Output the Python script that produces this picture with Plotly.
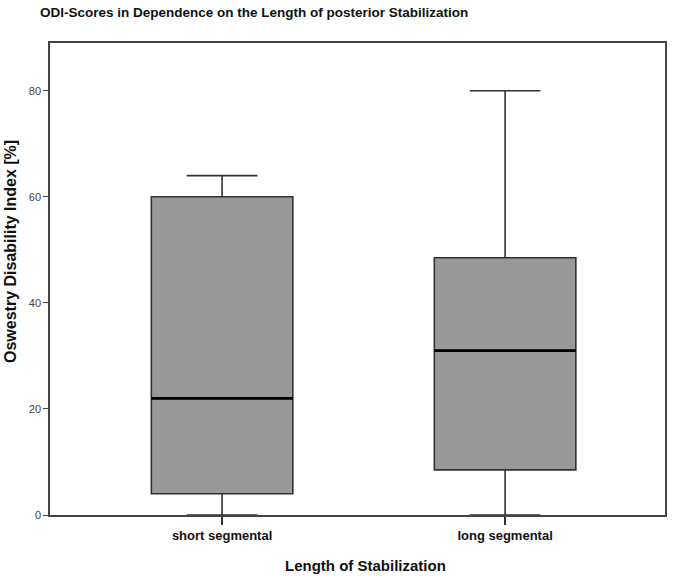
import plotly.graph_objects as go

categories = ["short segmental", "long segmental"]
x_pos = [0, 1]
lower_whisker = [0, 0]
q1 = [4, 8.5]
median = [22, 31]
q3 = [60, 48.5]
upper_whisker = [64, 80]
y_ticks = [0, 20, 40, 60, 80]

FONT = "Liberation Sans, Arial, sans-serif"

fig = go.Figure()
fig.add_trace(go.Box(
    x=x_pos, q1=q1, median=median, q3=q3,
    lowerfence=lower_whisker, upperfence=upper_whisker,
    width=0.5, whiskerwidth=0.5,
    fillcolor="#999999",
    line=dict(color="#333333", width=1.6),
    boxpoints=False, showlegend=False, hoverinfo="skip",
))
for xi, m in zip(x_pos, median):
    fig.add_trace(go.Scatter(
        x=[xi - 0.25, xi + 0.25], y=[m, m], mode="lines",
        line=dict(color="#000000", width=2.6), showlegend=False, hoverinfo="skip",
    ))

fig.update_layout(
    width=685, height=577,
    margin=dict(l=50, r=20, t=43, b=62),
    paper_bgcolor="white", plot_bgcolor="white",
    font=dict(family=FONT, color="#222222"),
    title=dict(text="<b>ODI-Scores in Dependence on the Length of posterior Stabilization</b>",
               x=40/685, xanchor="left", y=1 - 12/577, yanchor="middle",
               font=dict(size=13.5, color="#111111")),
    annotations=[
        dict(text="<b>Oswestry Disability Index [%]</b>", xref="paper", yref="paper",
             x=(10 - 50) / 615, y=(515 - 252) / 472, textangle=-90,
             showarrow=False, xanchor="center", yanchor="middle",
             font=dict(size=16, color="#111111", family=FONT)),
        dict(text="<b>Length of Stabilization</b>", xref="paper", yref="paper",
             x=(365 - 50) / 615, y=(515 - 565) / 472,
             showarrow=False, xanchor="center", yanchor="middle",
             font=dict(size=15, color="#111111", family=FONT)),
    ],
)
fig.update_xaxes(
    range=[-0.608, 1.565], tickvals=x_pos, ticktext=categories,
    tickfont=dict(size=13, color="#111111", family=FONT, weight="bold"),
    ticks="outside", ticklen=8, tickcolor="#333333", tickwidth=1.5,
    showline=True, linecolor="#444444", linewidth=1.5, mirror=True,
    showgrid=False, zeroline=False, automargin=False,
)
fig.update_yaxes(
    range=[0, 89], tickvals=y_ticks,
    tickfont=dict(size=11, color="#444444", family=FONT),
    ticks="outside", ticklen=5, tickcolor="#444444", tickwidth=1,
    showline=True, linecolor="#444444", linewidth=1.5, mirror=True,
    showgrid=False, zeroline=False, automargin=False,
)

fig.write_html("out.html", config={"displayModeBar": False},
               post_script="document.body.style.margin='0';")
